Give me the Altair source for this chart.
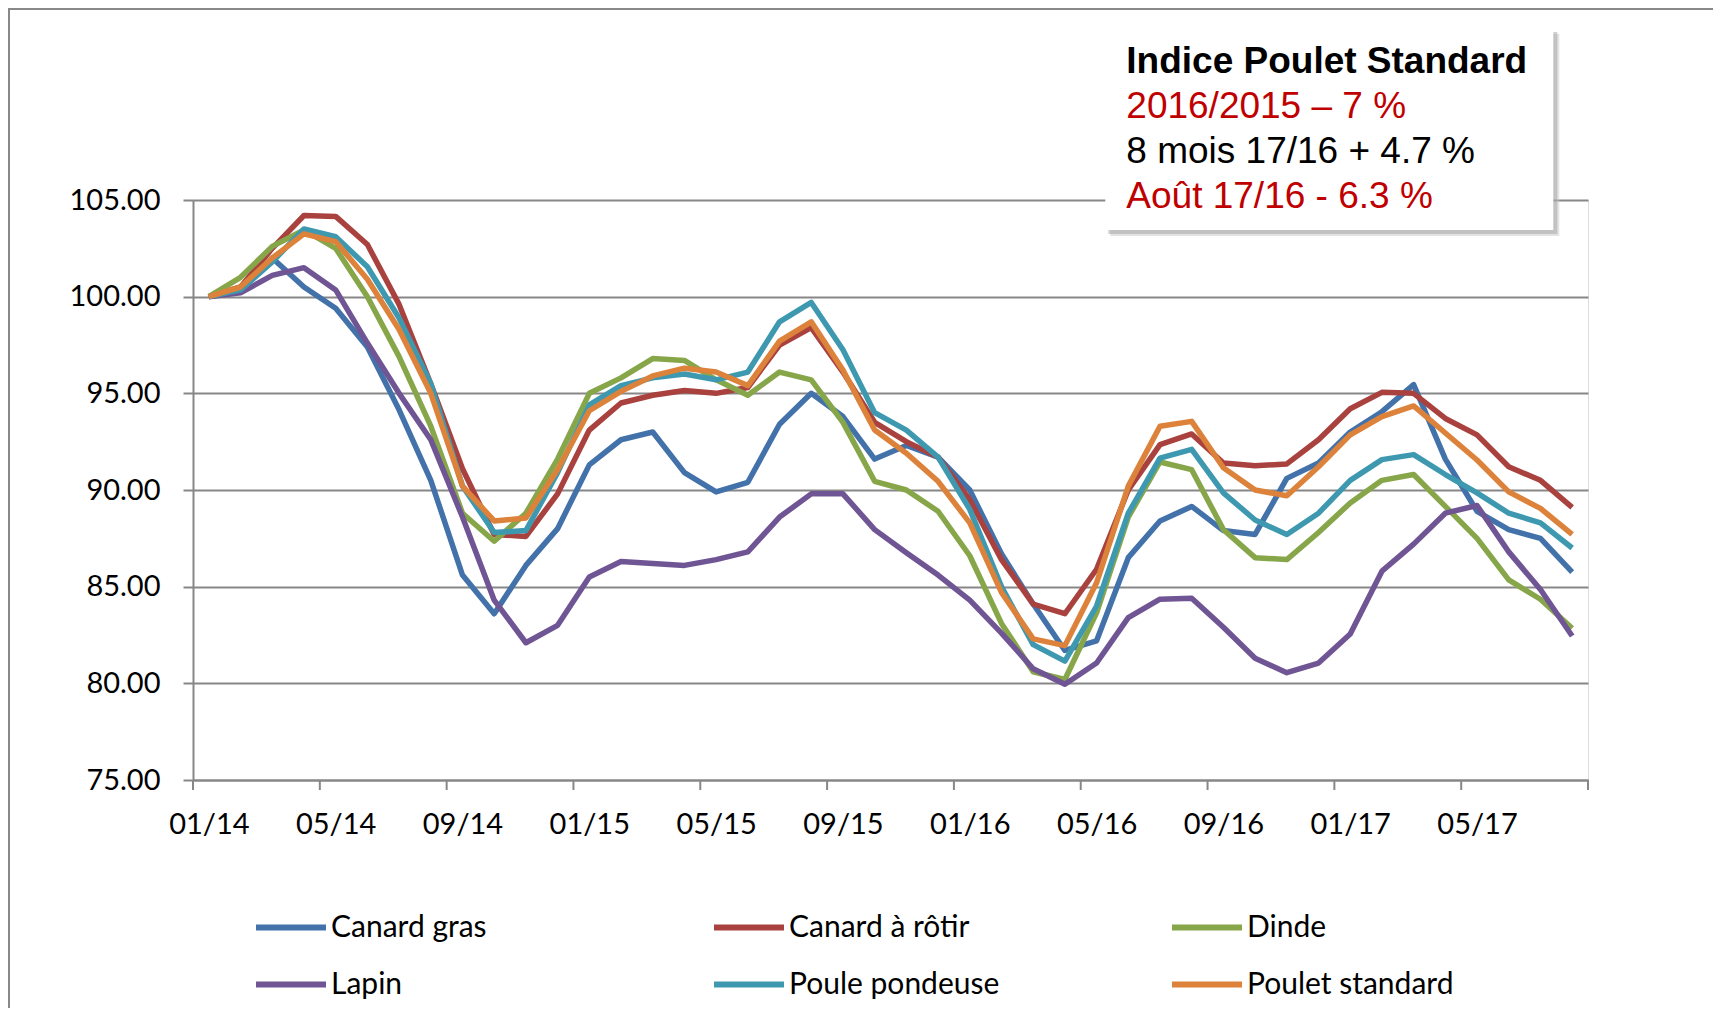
import json
import altair as alt
import pandas as pd

# ---------------- data ----------------
months = ["01/14", "02/14", "03/14", "04/14", "05/14", "06/14", "07/14", "08/14", "09/14", "10/14", "11/14", "12/14",
          "01/15", "02/15", "03/15", "04/15", "05/15", "06/15", "07/15", "08/15", "09/15", "10/15", "11/15", "12/15",
          "01/16", "02/16", "03/16", "04/16", "05/16", "06/16", "07/16", "08/16", "09/16", "10/16", "11/16", "12/16",
          "01/17", "02/17", "03/17", "04/17", "05/17", "06/17", "07/17", "08/17"]

tick_labels = ["01/14", "05/14", "09/14", "01/15", "05/15", "09/15", "01/16", "05/16", "09/16", "01/17", "05/17"]

series_names = ["Canard gras", "Canard à rôtir", "Dinde", "Lapin", "Poule pondeuse", "Poulet standard"]

canard_gras = [100.0, 100.3, 102.0, 100.5, 99.4, 97.4, 94.15, 90.5, 85.6, 83.6, 86.1, 88.0,
               91.3, 92.6, 93.0, 90.9, 89.9, 90.4, 93.4, 95.0, 93.8, 91.6, 92.3, 91.7,
               90.0, 86.7, 84.1, 81.7, 82.2, 86.5, 88.4, 89.15, 87.9, 87.7, 90.6, 91.4,
               93.0, 94.05, 95.45, 91.6, 88.9, 87.95, 87.5, 85.75]
canard_rotir = [100.0, 100.5, 102.5, 104.2, 104.15, 102.7, 99.6, 95.5, 91.1, 87.7, 87.6, 89.8,
                93.1, 94.5, 94.9, 95.15, 95.0, 95.3, 97.5, 98.4, 96.1, 93.5, 92.5, 91.7,
                89.5, 86.4, 84.1, 83.6, 85.9, 90.0, 92.35, 92.9, 91.4, 91.25, 91.35, 92.6,
                94.2, 95.05, 95.0, 93.7, 92.85, 91.2, 90.5, 89.1]
dinde = [100.0, 101.0, 102.6, 103.45, 102.5, 100.0, 96.9, 93.3, 88.8, 87.35, 88.8, 91.6,
         95.0, 95.8, 96.8, 96.7, 95.7, 94.9, 96.1, 95.7, 93.5, 90.45, 90.0, 88.9,
         86.6, 83.1, 80.6, 80.2, 83.65, 88.6, 91.45, 91.05, 87.95, 86.5, 86.4, 87.8,
         89.33, 90.5, 90.8, 89.15, 87.5, 85.35, 84.35, 82.85]
lapin = [100.0, 100.2, 101.1, 101.5, 100.35, 97.6, 95.0, 92.6, 88.6, 84.3, 82.1, 83.0,
         85.5, 86.3, 86.2, 86.1, 86.4, 86.8, 88.6, 89.8, 89.8, 87.95, 86.75, 85.6,
         84.3, 82.6, 80.75, 79.95, 81.05, 83.4, 84.35, 84.4, 82.9, 81.3, 80.55, 81.05,
         82.55, 85.8, 87.2, 88.8, 89.2, 86.8, 84.85, 82.45]
poule_pondeuse = [100.0, 100.35, 101.8, 103.5, 103.1, 101.55, 98.9, 95.5, 90.2, 87.8, 87.9, 90.9,
                  94.4, 95.4, 95.8, 96.0, 95.7, 96.1, 98.7, 99.7, 97.25, 94.0, 93.1, 91.7,
                  89.0, 85.0, 82.0, 81.15, 84.0, 88.8, 91.65, 92.1, 89.85, 88.45, 87.7, 88.8,
                  90.5, 91.57, 91.83, 90.8, 89.85, 88.8, 88.3, 87.0]
poulet_standard = [100.0, 100.5, 102.0, 103.25, 102.85, 100.9, 98.3, 95.0, 90.2, 88.4, 88.55, 91.05,
                   94.1, 95.1, 95.9, 96.3, 96.1, 95.4, 97.7, 98.7, 96.2, 93.1, 91.9, 90.45,
                   88.3, 84.7, 82.3, 81.95, 85.2, 90.2, 93.3, 93.55, 91.15, 90.0, 89.7, 91.2,
                   92.85, 93.8, 94.35, 92.95, 91.55, 89.9, 89.05, 87.7]

series_values = [canard_gras, canard_rotir, dinde, lapin, poule_pondeuse, poulet_standard]
series_colors = ["#4372AA", "#A9423F", "#87A64A", "#705594", "#3E99B0", "#DC823A"]

y_ticks = [75, 80, 85, 90, 95, 100, 105]

annot_lines = ["Indice Poulet Standard", "2016/2015 \u2013 7 %", "8 mois 17/16 + 4.7 %", "Août 17/16 - 6.3 %"]
annot_colors = ["#000000", "#C00000", "#000000", "#C00000"]

# ---------------- table ----------------
rows = []
for name, vals in zip(series_names, series_values):
    for i, v in enumerate(vals):
        rows.append({"idx": i, "month": months[i], "series": name, "value": v})
df = pd.DataFrame(rows)

# ---------------- layout ----------------
W, H = 1395, 580
PAD_L, PAD_T, PAD_R, PAD_B = 185, 192, 125, 228
GRID = "#878787"
FONT = "Lato"
N = len(months)

label_vals = list(range(0, N, 4))
label_expr = "(" + json.dumps(tick_labels) + ")[datum.value / 4] || ''"
xscale = alt.Scale(domain=[-0.5, N - 0.5], nice=False, zero=False)

lines = alt.Chart(df).mark_line(strokeWidth=5.5, strokeJoin="round").encode(
    x=alt.X("idx:Q", scale=xscale,
            axis=alt.Axis(values=label_vals, labelExpr=label_expr, title=None, grid=False,
                          ticks=False, domainColor=GRID, domainWidth=2,
                          labelFont=FONT, labelFontSize=29, labelColor="#000000",
                          labelPadding=30, labelAlign="center",
                          labelBaseline="top", labelOverlap=False, labelBound=False,
                          labelFlush=False)),
    y=alt.Y("value:Q",
            scale=alt.Scale(domain=[75, 105], nice=False, zero=False),
            axis=alt.Axis(values=y_ticks, format=".2f", title=None, grid=True,
                          gridColor=GRID, gridWidth=2, tickSize=10, tickColor=GRID,
                          tickWidth=2, domainColor=GRID, domainWidth=2,
                          labelFont=FONT, labelFontSize=29, labelColor="#000000",
                          labelPadding=23)),
    color=alt.Color("series:N",
                    sort=series_names,
                    scale=alt.Scale(domain=series_names, range=series_colors),
                    legend=alt.Legend(title=None, orient="none", legendX=60, legendY=689.5,
                                      direction="horizontal", columns=3,
                                      symbolType="stroke", symbolSize=4900,
                                      symbolStrokeWidth=6, labelFont=FONT, labelFontSize=30,
                                      labelColor="#000000", labelOffset=2,
                                      columnPadding=160, rowPadding=4, gridAlign="all",
                                      padding=0, labelLimit=400)),
    order=alt.Order("idx:Q"),
)

# boundary ticks of the category axis (every 4 months)
xticks_df = pd.DataFrame({"pos": [i - 0.5 for i in range(0, N + 1, 4)]})
xticks = alt.Chart(xticks_df).mark_rule(color=GRID, strokeWidth=2).encode(
    x=alt.X("pos:Q", scale=xscale), y=alt.value(H), y2=alt.value(H + 10))

one = pd.DataFrame({"a": [0]})

border_top = alt.Chart(one).mark_rule(color="#888888", strokeWidth=2).encode(
    x=alt.value(-PAD_L), x2=alt.value(W + PAD_R), y=alt.value(-PAD_T + 1))
border_left = alt.Chart(one).mark_rule(color="#888888", strokeWidth=2).encode(
    x=alt.value(-PAD_L + 1), y=alt.value(-PAD_T), y2=alt.value(H + PAD_B))

bx0, bx1, by0, by1 = 1105 - 192.7, 1553 - 192.7, 29 - 200, 230 - 200
shadow2 = alt.Chart(one).mark_rect(color="#c8c8c8", opacity=0.5).encode(
    x=alt.value(bx0 + 5), x2=alt.value(bx1 + 6), y=alt.value(by0 + 5), y2=alt.value(by1 + 6))
shadow = alt.Chart(one).mark_rect(color="#9a9a9a", opacity=0.45).encode(
    x=alt.value(bx0 + 3), x2=alt.value(bx1 + 4), y=alt.value(by0 + 3), y2=alt.value(by1 + 4))
box = alt.Chart(one).mark_rect(color="#ffffff").encode(
    x=alt.value(bx0), x2=alt.value(bx1), y=alt.value(by0), y2=alt.value(by1))

texts = []
baselines = [73, 118, 163, 208]
for k, (t, c) in enumerate(zip(annot_lines, annot_colors)):
    texts.append(alt.Chart(one).mark_text(
        text=t, color=c, font="Liberation Sans", fontSize=37,
        fontWeight="bold" if k == 0 else "normal",
        align="left", baseline="alphabetic").encode(
        x=alt.value(1126 - 192.7), y=alt.value(baselines[k] - 200)))

chart = alt.layer(lines, xticks, border_top, border_left, shadow2, shadow, box, *texts).properties(
    width=W, height=H,
    padding={"left": PAD_L, "top": PAD_T, "right": PAD_R, "bottom": PAD_B},
    autosize=alt.AutoSizeParams(type="none"),
).configure_view(strokeWidth=0).configure(background="#ffffff")

chart.save("out.html", embed_options={"renderer": "svg", "actions": False})
